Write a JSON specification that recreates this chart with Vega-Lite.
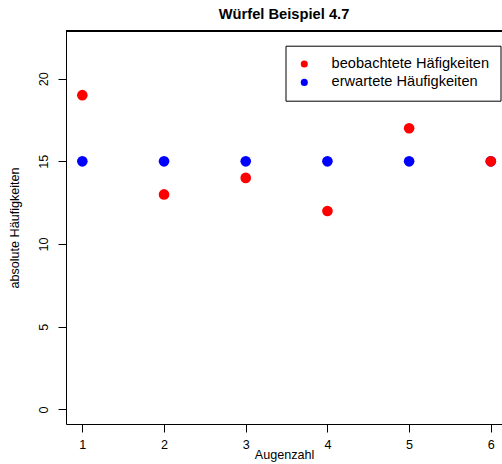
{
  "$schema": "https://vega.github.io/schema/vega-lite/v6.json",
  "width": 436,
  "height": 393,
  "autosize": {"type": "none"},
  "padding": {"left": 66, "top": 31, "right": 0, "bottom": 40},
  "background": "white",
  "config": {
    "view": {"stroke": null},
    "font": "Liberation Sans",
    "axis": {"grid": false, "domainColor": "black", "tickColor": "black", "labelColor": "black", "titleColor": "black", "labelFont": "Liberation Sans", "titleFont": "Liberation Sans", "labelFontSize": 12.6, "titleFontSize": 12.6, "titleFontWeight": "normal", "tickSize": 8}
  },
  "title": {"text": "Würfel Beispiel 4.7", "font": "Liberation Sans", "fontSize": 14.7, "fontWeight": "bold", "color": "black", "anchor": "middle", "offset": 9},
  "data": {
    "values": [
      {"Augenzahl": 1, "Haeufigkeit": 15, "Art": "erwartete Häufigkeiten"},
      {"Augenzahl": 2, "Haeufigkeit": 15, "Art": "erwartete Häufigkeiten"},
      {"Augenzahl": 3, "Haeufigkeit": 15, "Art": "erwartete Häufigkeiten"},
      {"Augenzahl": 4, "Haeufigkeit": 15, "Art": "erwartete Häufigkeiten"},
      {"Augenzahl": 5, "Haeufigkeit": 15, "Art": "erwartete Häufigkeiten"},
      {"Augenzahl": 6, "Haeufigkeit": 15, "Art": "erwartete Häufigkeiten"},
      {"Augenzahl": 1, "Haeufigkeit": 19, "Art": "beobachtete Häfigkeiten"},
      {"Augenzahl": 2, "Haeufigkeit": 13, "Art": "beobachtete Häfigkeiten"},
      {"Augenzahl": 3, "Haeufigkeit": 14, "Art": "beobachtete Häfigkeiten"},
      {"Augenzahl": 4, "Haeufigkeit": 12, "Art": "beobachtete Häfigkeiten"},
      {"Augenzahl": 5, "Haeufigkeit": 17, "Art": "beobachtete Häfigkeiten"},
      {"Augenzahl": 6, "Haeufigkeit": 15, "Art": "beobachtete Häfigkeiten"}
    ]
  },
  "layer": [
    {
      "mark": {"type": "point", "filled": true, "opacity": 1, "size": 113},
      "encoding": {
        "x": {"field": "Augenzahl", "type": "quantitative", "scale": {"domain": [0.8, 6.137], "nice": false, "zero": false},
          "axis": {"values": [1, 2, 3, 4, 5, 6], "title": "Augenzahl", "labelPadding": 6, "titlePadding": -2, "labelFlush": false}},
        "y": {"field": "Haeufigkeit", "type": "quantitative", "scale": {"domain": [-0.88, 22.88], "nice": false, "zero": false},
          "axis": {"values": [0, 5, 10, 15, 20], "title": "absolute Häufigkeiten", "labelAngle": -90, "labelAlign": "center", "labelBaseline": "bottom", "labelPadding": 8, "titlePadding": 16, "labelFlush": false}},
        "color": {"field": "Art", "type": "nominal", "sort": null,
          "scale": {"domain": ["beobachtete Häfigkeiten", "erwartete Häufigkeiten"], "range": ["#FF0000", "#0000FF"]},
          "legend": {"title": null, "orient": "none", "legendX": 219.5, "legendY": 14.7, "strokeColor": "black", "fillColor": "white", "padding": 11, "symbolOffset": 0.5, "symbolSize": 50, "symbolType": "circle", "symbolStrokeWidth": 0, "labelFont": "Liberation Sans", "labelFontSize": 14.6, "labelColor": "black", "labelOffset": 20, "rowPadding": 3.4, "labelLimit": 300}}
      }
    },
    {
      "mark": {"type": "rule", "color": "black", "strokeWidth": 1},
      "encoding": {"y": {"datum": 22.88}}
    }
  ]
}
